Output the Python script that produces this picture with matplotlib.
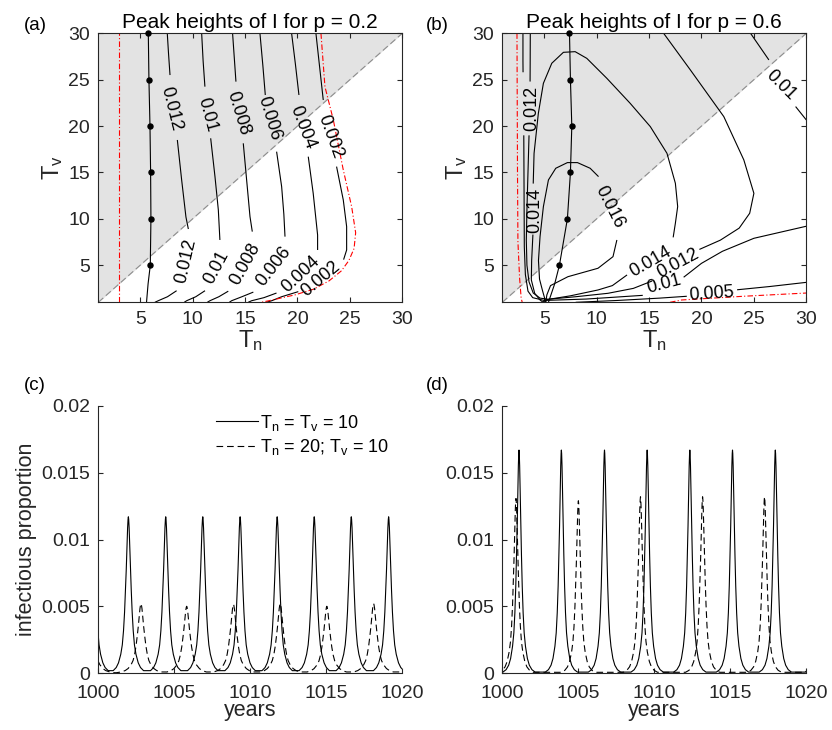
import numpy as np
import matplotlib
matplotlib.use('Agg')
import matplotlib.pyplot as plt

plt.rcParams['font.family'] = ['Liberation Sans', 'DejaVu Sans']
plt.rcParams['mathtext.fontset'] = 'custom'
plt.rcParams['mathtext.rm'] = 'Liberation Sans'
plt.rcParams['mathtext.it'] = 'Liberation Sans:italic'
plt.rcParams['mathtext.bf'] = 'Liberation Sans:bold'

# ---------------- data: panel (a), p = 0.2 ----------------
A_TICKS = [5, 10, 15, 20, 25, 30]
A_RIDGE_TN = [5.6, 5.75, 5.96, 6.02, 5.99, 5.93, 5.83, 5.77]
A_RIDGE_TV = [1.0, 3.0, 5, 10, 15, 20, 25, 30]
A_DOT_TN = [5.96, 6.02, 5.99, 5.93, 5.83, 5.77]
A_DOT_TV = [5, 10, 15, 20, 25, 30]
A_RED_LEFT = [(3.0, 1.0), (3.0, 30.0)]
A_RED_RIGHT = [(22.24, 30), (22.62, 24.25), (23.42, 20.66), (24.37, 15.27), (25.17, 11.3),
               (25.55, 8.5), (25.4, 6.8), (24.9, 5.5), (24.2, 4.4), (23.0, 3.3),
               (21.5, 2.4), (19.76, 1.8), (17.2, 1.15), (16.5, 1.0)]
A_C012 = [[(7.58, 30), (7.70, 27.8), (7.84, 25.5)],
          [(8.54, 18.5), (8.95, 14.2), (9.36, 10.2), (9.59, 8.9)],
          [(8.47, 2.25), (7.6, 1.6), (6.72, 1.17), (6.4, 1.0)]]
A_C010 = [[(10.86, 30), (11.0, 27), (11.17, 24.25)],
          [(11.72, 18.68), (12.13, 14.55), (12.45, 10.96), (12.6, 7.72)],
          [(11.18, 2.25), (10.3, 1.6), (9.43, 1.17), (9.2, 1.0)]]
A_C008 = [[(13.81, 30), (13.97, 27.4), (14.13, 24.79)],
          [(14.83, 18.14), (15.15, 14.19), (15.47, 10.24), (15.69, 8.62)],
          [(13.4, 2.2), (12.5, 1.6), (11.65, 1.17), (11.4, 1.0)]]
A_C006 = [[(16.42, 30), (16.7, 26.5), (16.93, 23.35)],
          [(18.01, 17.24), (18.49, 13.47), (18.7, 10.5), (18.81, 8.08)],
          [(15.79, 2.1), (14.7, 1.6), (13.72, 1.17), (13.5, 1.0)]]
A_C004 = [[(19.44, 30), (19.8, 26.7), (20.14, 23.35)],
          [(21.03, 16.7), (21.5, 12.75), (21.92, 8.26), (21.92, 6.64)],
          [(18.0, 2.0), (16.8, 1.5), (15.63, 1.17), (15.3, 1.0)]]
A_C002 = [[(21.76, 30), (22.1, 26.5), (22.46, 22.81)],
          [(23.73, 15.63), (24.37, 12.03), (24.69, 9.16), (24.69, 6.64), (24.4, 5.6)],
          [(20.08, 2.15), (18.49, 1.6), (17.5, 1.15), (17.0, 1.0)]]
A_LEVELS = ['0.012', '0.01', '0.008', '0.006', '0.004', '0.002']
A_LABEL_UP = [(8.12, 21.9, -76), (11.56, 21.3, -75), (14.51, 21.45, -73),
              (17.53, 20.84, -73), (20.62, 19.94, -69), (23.26, 18.93, -70)]
A_LABEL_LOW = [(9.2, 5.46, 77), (12.13, 4.84, 62), (14.9, 5.27, 61),
               (17.6, 5.02, 52), (20.14, 4.2, 43), (22.1, 3.7, 40)]

# ---------------- data: panel (b), p = 0.6 ----------------
B_RIDGE_TN = [5.4, 6.0, 6.45, 7.21, 7.50, 7.63, 7.50, 7.41]
B_RIDGE_TV = [1.0, 3.0, 5, 10, 15, 20, 25, 30]
B_DOT_TN = [6.45, 7.21, 7.50, 7.63, 7.50, 7.41]
B_DOT_TV = [5, 10, 15, 20, 25, 30]
B_RED_LEFT = [(2.40, 30), (2.45, 15), (2.49, 7.54), (2.65, 3.6), (2.80, 1.44), (2.9, 1.0)]
B_RED_BOTTOM = [(17.0, 1.0), (18.1, 1.25), (24.0, 1.65), (30.0, 2.0)]
B_C016 = [[(10.18, 14.55), (9.38, 15.45), (8.17, 16.06), (7.21, 16.06), (6.10, 15.45),
           (5.40, 14.19), (4.92, 11.32), (4.60, 8.08), (4.45, 5.5), (4.55, 3.5),
           (4.85, 2.2), (5.15, 1.0)],
          [(11.93, 7.72), (11.56, 5.92), (10.13, 4.67), (7.26, 3.76), (5.6, 2.8),
           (5.25, 1.8), (5.15, 1.0)]]
B_C014 = [[(3.95, 13.8), (4.03, 17.06), (4.44, 21.38), (4.92, 24.61), (5.72, 26.77),
           (6.83, 27.95), (7.95, 28.02), (9.06, 27.3), (10.97, 25.15), (13.2, 22.45),
           (15.12, 19.94), (16.71, 17.06), (17.51, 13.83), (17.73, 11.32), (17.51, 9.52),
           (17.3, 8.0)],
          [(12.9, 3.95), (11.5, 2.8), (10.13, 2.33), (7.5, 1.7), (5.04, 1.25), (4.9, 1.0)],
          [(3.92, 8.3), (3.8, 5.5), (3.77, 3.41), (4.09, 1.97), (4.6, 1.25), (4.9, 1.0)]]
B_C012 = [[(3.67, 30), (3.66, 27), (3.65, 24.8)],
          [(3.55, 19.0), (3.45, 15), (3.35, 11), (3.29, 7.7), (3.35, 5.0), (3.55, 3.2),
           (3.95, 2.0), (4.6, 1.45), (5.36, 1.33), (8.0, 1.6), (11.08, 1.97), (13.5, 2.5),
           (15.3, 3.3)],
          [(19.8, 6.7), (21.8, 7.7), (23.6, 9.0), (24.6, 10.6), (25.0, 12.75), (24.04, 16.35),
           (22.13, 21.02), (18.94, 26.05), (16.39, 30)]]
B_C010 = [[(2.97, 30), (2.97, 27), (2.98, 25.8)],
          [(3.05, 19.0), (3.08, 12), (3.1, 7), (3.2, 4.0), (3.45, 2.2), (3.9, 1.5),
           (5.0, 1.2), (9.0, 1.35), (14.4, 1.75)],
          [(18.3, 3.7), (20.0, 5.2), (22.0, 6.5), (25.0, 7.9), (30.0, 9.2)],
          [(24.68, 30), (26.43, 27.13)],
          [(28.98, 22.1), (30.0, 20.66)]]
B_C005 = [[(8.0, 1.0), (12.0, 1.2), (16.0, 1.45), (18.6, 1.65)],
          [(23.4, 2.35), (26.5, 2.7), (30.0, 3.15)]]
B_LABELS = ['0.016', '0.014', '0.014', '0.012', '0.012', '0.01', '0.01', '0.005']
B_LABEL_POS = [(11.36, 11.32, -63), (3.88, 10.95, 90), (15.0, 5.6, 30), (3.6, 21.9, 90),
               (17.63, 5.38, 28), (16.36, 3.15, 15), (27.7, 24.6, -45), (20.94, 2.1, 4)]

# ---------------- data: panels (c), (d) time series ----------------
YEAR_TICKS = [1000, 1005, 1010, 1015, 1020]
PROP_TICKS = [0, 0.005, 0.01, 0.015, 0.02]
PROP_TICKLABELS = ['0', '0.005', '0.01', '0.015', '0.02']
PROFILE_DT = [0, 0.02, 0.05, 0.09, 0.14, 0.19, 0.25, 0.32, 0.4, 0.5, 0.65, 0.8, 1.0, 1.25]
PROFILE_FRAC = [1, 0.985, 0.93, 0.81, 0.66, 0.53, 0.39, 0.27, 0.18, 0.12, 0.065, 0.035, 0.015, 0.004]

C_SOLID_T = [999.65, 1001.98, 1004.44, 1006.88, 1009.34, 1011.78, 1014.22, 1016.66, 1019.12, 1021.56]
C_SOLID_H = [0.0117] * 10
C_DASH_T = [999.45, 1002.81, 1005.82, 1008.90, 1011.98, 1015.05, 1018.13, 1021.2]
C_DASH_H = [0.0052, 0.0052, 0.0050, 0.00515, 0.0052, 0.0050, 0.0052, 0.0052]
D_SOLID_T = [998.3, 1001.10, 1003.89, 1006.73, 1009.54, 1012.35, 1015.16, 1017.98, 1021.0]
D_SOLID_H = [0.0167] * 9
D_DASH_T = [996.8, 1000.90, 1005.01, 1009.10, 1013.19, 1017.27, 1021.4]
D_DASH_H = [0.0131, 0.01307, 0.0129, 0.0132, 0.0132, 0.0132, 0.0132]
LEGEND_LABELS = ['T$_\\mathrm{n}$ = T$_\\mathrm{v}$ = 10', 'T$_\\mathrm{n}$ = 20; T$_\\mathrm{v}$ = 10']

# ---------------- styling ----------------
AX_COLOR = '#262626'
GRAY = '#e3e3e3'
LW = 0.8
TICK_FS = 14
CL_FS = 13

W, H = 832, 730
fig = plt.figure(figsize=(W / 100, H / 100), dpi=100)


def box(l, t, r, b):
    return [l / W, 1 - b / H, (r - l) / W, (b - t) / H]


axA = fig.add_axes(box(98.3, 33.3, 402.3, 302.3))
axB = fig.add_axes(box(502.3, 33.3, 806.3, 302.3))
axC = fig.add_axes(box(98.3, 406, 402.0, 673))
axD = fig.add_axes(box(502.3, 406, 806.0, 673))


def style_axes(ax, boxed):
    for s in ax.spines.values():
        s.set_color(AX_COLOR)
        s.set_linewidth(0.8)
    if not boxed:
        ax.spines['top'].set_visible(False)
        ax.spines['right'].set_visible(False)
    ax.tick_params(direction='in', length=3.5, width=0.8, colors=AX_COLOR,
                   labelsize=TICK_FS, top=boxed, right=boxed, labelcolor=AX_COLOR)
    ax.tick_params(axis='x', pad=6 if boxed else 8.5)
    ax.tick_params(axis='y', pad=6)


def draw_segments(ax, segs):
    for seg in segs:
        xs = [p[0] for p in seg]
        ys = [p[1] for p in seg]
        ax.plot(xs, ys, color='black', lw=LW, solid_capstyle='butt')


def clabel(ax, txt, x, y, rot):
    ax.text(x, y, txt, rotation=rot, rotation_mode='anchor', ha='center',
            va='center_baseline', fontsize=CL_FS, color='black', zorder=5)


def heat_panel(ax, title):
    diag = [1, 30]
    ax.fill_between(diag, diag, [30, 30], color=GRAY, lw=0, zorder=0)
    ax.plot(diag, diag, color='#8c8c8c', lw=0.8, ls=(0, (6, 3)), zorder=1)
    ax.set_xlim(1, 30)
    ax.set_ylim(1, 30)
    ax.set_xticks(A_TICKS)
    ax.set_yticks(A_TICKS)
    ax.set_xticklabels([str(t) for t in A_TICKS])
    ax.set_yticklabels([str(t) for t in A_TICKS])
    ax.set_title(title, fontsize=15, pad=4, color='black')
    ax.set_xlabel('T$_\\mathrm{n}$', fontsize=17, labelpad=0, color=AX_COLOR)
    ax.set_ylabel('T$_\\mathrm{v}$', fontsize=17, labelpad=2, color=AX_COLOR)
    style_axes(ax, True)


RED_LS = (0, (5, 2, 1, 2))

# ---- panel (a)
heat_panel(axA, 'Peak heights of I for p = 0.2')
for segs in [A_C012, A_C010, A_C008, A_C006, A_C004, A_C002]:
    draw_segments(axA, segs)
for lev, up, low in zip(A_LEVELS, A_LABEL_UP, A_LABEL_LOW):
    clabel(axA, lev, *up)
    clabel(axA, lev, *low)
axA.plot([p[0] for p in A_RED_LEFT], [p[1] for p in A_RED_LEFT], color='red', lw=LW, ls=RED_LS)
axA.plot([p[0] for p in A_RED_RIGHT], [p[1] for p in A_RED_RIGHT], color='red', lw=LW, ls=RED_LS)
axA.plot(A_RIDGE_TN, A_RIDGE_TV, color='black', lw=LW)
axA.plot(A_DOT_TN, A_DOT_TV, 'o', color='black', ms=3.6, clip_on=False, zorder=6)

# ---- panel (b)
heat_panel(axB, 'Peak heights of I for p = 0.6')
for segs in [B_C016, B_C014, B_C012, B_C010, B_C005]:
    draw_segments(axB, segs)
for lev, pos in zip(B_LABELS, B_LABEL_POS):
    clabel(axB, lev, *pos)
axB.plot([p[0] for p in B_RED_LEFT], [p[1] for p in B_RED_LEFT], color='red', lw=LW, ls=RED_LS)
axB.plot([p[0] for p in B_RED_BOTTOM], [p[1] for p in B_RED_BOTTOM], color='red', lw=LW, ls=RED_LS)
axB.plot(B_RIDGE_TN, B_RIDGE_TV, color='black', lw=LW)
axB.plot(B_DOT_TN, B_DOT_TV, 'o', color='black', ms=3.6, clip_on=False, zorder=6)


# ---- time series
def peak_train(times, heights, width):
    half_dt = list(PROFILE_DT)
    half_f = list(PROFILE_FRAC)
    full_dt = [-d for d in half_dt[:0:-1]] + half_dt
    full_f = half_f[:0:-1] + half_f
    xs, ys = [], []
    n = len(times)
    for i, (t0, h) in enumerate(zip(times, heights)):
        lo = (times[i - 1] + t0) / 2 if i > 0 else -1e9
        hi = (t0 + times[i + 1]) / 2 if i < n - 1 else 1e9
        for d, f in zip(full_dt, full_f):
            t = t0 + width * d
            if lo < t <= hi:
                xs.append(t)
                ys.append(h * f)
    return xs, ys


def ts_panel(ax, solid, dashed, ylabel):
    xs, ys = peak_train(*solid)
    l1, = ax.plot(xs, ys, color='black', lw=LW)
    xs, ys = peak_train(*dashed)
    l2, = ax.plot(xs, ys, color='black', lw=LW, ls=(0, (6, 3.5)))
    ax.set_xlim(1000, 1020)
    ax.set_ylim(0, 0.02)
    ax.set_xticks(YEAR_TICKS)
    ax.set_xticklabels([str(t) for t in YEAR_TICKS])
    ax.set_yticks(PROP_TICKS)
    ax.set_yticklabels(PROP_TICKLABELS)
    ax.set_xlabel('years', fontsize=15.5, labelpad=-1, color=AX_COLOR)
    if ylabel:
        ax.set_ylabel(ylabel, fontsize=15.5, labelpad=3, color=AX_COLOR)
    style_axes(ax, False)
    return l1, l2


l1, l2 = ts_panel(axC, (C_SOLID_T, C_SOLID_H, 1.0), (C_DASH_T, C_DASH_H, 1.3), 'infectious proportion')
ts_panel(axD, (D_SOLID_T, D_SOLID_H, 0.85), (D_DASH_T, D_DASH_H, 0.9), None)
axC.legend([l1, l2], LEGEND_LABELS, loc='upper left', bbox_to_anchor=(0.388, 0.975),
           frameon=False, fontsize=13, handlelength=2.3, handletextpad=0.15,
           labelspacing=0.25, borderpad=0, borderaxespad=0)

for lab, x, y in [('(a)', 35, 26), ('(b)', 437, 26), ('(c)', 35, 385), ('(d)', 437, 385)]:
    fig.text(x / W, 1 - y / H, lab, ha='center', va='center', fontsize=13.5)

fig.savefig('out.png', dpi=100)
